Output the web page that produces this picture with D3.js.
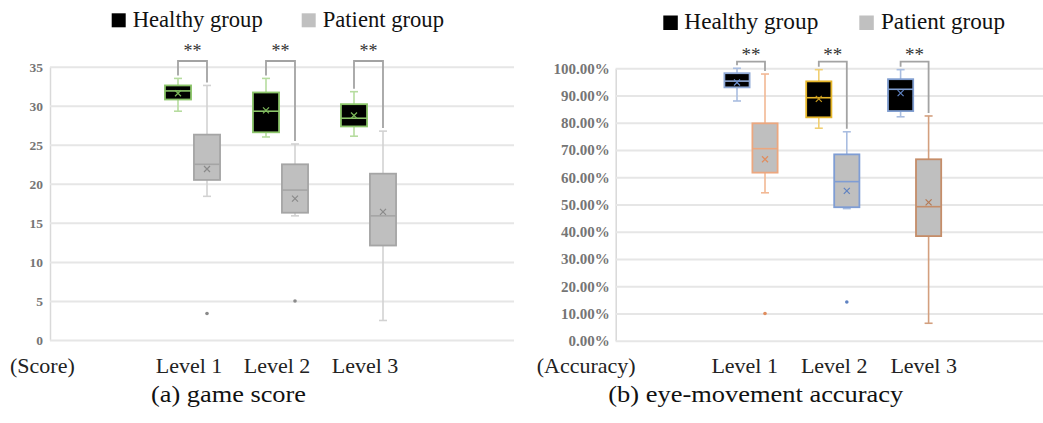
<!DOCTYPE html>
<html><head><meta charset="utf-8">
<script src="https://cdn.jsdelivr.net/npm/d3@7"></script>
<style>body{margin:0;background:#fff;} svg{display:block;font-family:"Liberation Serif","Times New Roman",serif;} .tick text{font-family:"Liberation Serif",serif !important;font-weight:700 !important;}</style>
</head><body><svg id="c" width="1043" height="423"></svg>
<script>
// ---------- data ----------
const levels = ["Level 1", "Level 2", "Level 3"];
const groups = ["Healthy group", "Patient group"];
const scoreTicks = [0, 5, 10, 15, 20, 25, 30, 35];
const accTicks = [0, 10, 20, 30, 40, 50, 60, 70, 80, 90, 100];

// (a) game score
const scoreHealthyMin = [29.3, 26.0, 26.1];
const scoreHealthyQ1 = [30.8, 26.6, 27.35];
const scoreHealthyMedian = [31.9, 29.3, 28.4];
const scoreHealthyQ3 = [32.6, 31.7, 30.2];
const scoreHealthyMax = [33.5, 33.5, 31.8];
const scoreHealthyMean = [31.6, 29.4, 28.75];
const scoreHealthyOutliers = [[], [], []];

const scorePatientMin = [18.4, 15.9, 2.5];
const scorePatientQ1 = [20.5, 16.3, 12.1];
const scorePatientMedian = [22.5, 19.2, 15.9];
const scorePatientQ3 = [26.3, 22.5, 21.3];
const scorePatientMax = [32.6, 25.1, 26.75];
const scorePatientMean = [21.9, 18.1, 16.4];
const scorePatientOutliers = [[3.4], [5.0], []];

// (b) eye-movement accuracy (%)
const accHealthyMin = [88.0, 78.0, 82.2];
const accHealthyQ1 = [93.0, 82.0, 84.3];
const accHealthyMedian = [95.3, 89.2, 92.3];
const accHealthyQ3 = [98.2, 95.2, 96.0];
const accHealthyMax = [100.0, 99.5, 99.5];
const accHealthyMean = [94.8, 88.8, 90.9];
const accHealthyOutliers = [[], [], []];

const accPatientMin = [54.3, 48.5, 6.4];
const accPatientQ1 = [61.7, 49.0, 38.4];
const accPatientMedian = [70.5, 58.4, 49.2];
const accPatientQ3 = [79.8, 68.4, 66.6];
const accPatientMax = [97.9, 76.7, 82.5];
const accPatientMean = [66.6, 55.0, 50.8];
const accPatientOutliers = [[10.0], [14.2], []];

const significance = ["**", "**", "**"];

// ---------- styles ----------
const scoreStroke = {"Healthy group": ["#8cc56a", "#8cc56a", "#8cc56a"], "Patient group": ["#a5a5a5", "#a5a5a5", "#a5a5a5"]};
const scoreWhisker = {"Healthy group": ["#b6dc9f", "#b6dc9f", "#b6dc9f"], "Patient group": ["#d2d2d2", "#d2d2d2", "#d2d2d2"]};
const scoreMark = {"Healthy group": ["#7cb85a", "#7cb85a", "#7cb85a"], "Patient group": ["#8a8a8a", "#8a8a8a", "#8a8a8a"]};
const accStroke = {"Healthy group": ["#8fa9d6", "#e6b62a", "#7f9dd0"], "Patient group": ["#eca77f", "#7f9dd4", "#c58d69"]};
const accWhisker = {"Healthy group": ["#a9bde0", "#f0cf73", "#a9bde0"], "Patient group": ["#f2b894", "#a9bde0", "#d39f7e"]};
const accMark = {"Healthy group": ["#6d8fcc", "#c99a1c", "#5f82c2"], "Patient group": ["#e08d5e", "#5f82c2", "#b57a55"]};
const fills = {"Healthy group": "#000000", "Patient group": "#bfbfbf"};

const svg = d3.select("#c");

function drawPanel(p) {
  const g = svg.append("g");
  const y = d3.scaleLinear().domain(p.yDomain).range([p.yBottom, p.yTop]);
  const x = d3.scaleBand().domain(levels).range(p.xRange);
  const xg = d3.scaleBand().domain(groups).range([-p.pair / 2, p.pair / 2]);
  const cx = (lvl, grp) => x(lvl) + x.bandwidth() / 2 + xg(grp) + xg.bandwidth() / 2;
  const bw = xg.bandwidth() * 0.9;

  // axis + gridlines
  const ax = g.append("g").attr("transform", `translate(${p.plotLeft},0)`)
    .call(d3.axisLeft(y).tickValues(p.ticks).tickSize(-(p.plotRight - p.plotLeft)).tickSizeOuter(0)
      .tickPadding(p.tickPad).tickFormat(p.fmt));
  ax.attr("font-family", null);
  ax.select(".domain").attr("stroke", "#d9d9d9").attr("stroke-width", 1.5);
  ax.selectAll(".tick line").attr("stroke", "#e6e6e6").attr("stroke-width", 2);
  ax.selectAll(".tick text").attr("font-size", p.tickSize).attr("fill", "#757575");

  // boxes
  groups.forEach(grp => {
    const s = p.stats[grp];
    const rows = levels.map((lvl, i) => ({
      lvl, i, min: s.min[i], q1: s.q1[i], med: s.med[i], q3: s.q3[i], max: s.max[i], mean: s.mean[i], out: s.out[i],
      stroke: p.stroke[grp][i], wh: p.whisker[grp][i], mk: p.mark[grp][i]
    }));
    const bg = g.append("g");
    rows.forEach(r => {
      const c = cx(r.lvl, grp);
      bg.append("line").attr("x1", c).attr("x2", c).attr("y1", y(r.max)).attr("y2", y(r.min))
        .attr("stroke", r.wh).attr("stroke-width", 1.6);
      [r.min, r.max].forEach(v => bg.append("line").attr("x1", c - 4).attr("x2", c + 4)
        .attr("y1", y(v)).attr("y2", y(v)).attr("stroke", r.wh).attr("stroke-width", 1.6));
      bg.append("rect").attr("x", c - bw / 2).attr("width", bw).attr("y", y(r.q3)).attr("height", y(r.q1) - y(r.q3))
        .attr("fill", fills[grp]).attr("stroke", r.stroke).attr("stroke-width", 1.8);
      bg.append("line").attr("x1", c - bw / 2).attr("x2", c + bw / 2).attr("y1", y(r.med)).attr("y2", y(r.med))
        .attr("stroke", r.stroke).attr("stroke-width", 1.6);
      const m = y(r.mean), k = 3;
      bg.append("path").attr("d", `M${c - k},${m - k}L${c + k},${m + k}M${c - k},${m + k}L${c + k},${m - k}`)
        .attr("stroke", r.mk).attr("stroke-width", 1.2).attr("fill", "none");
      r.out.forEach(v => bg.append("circle").attr("cx", c).attr("cy", y(v)).attr("r", 1.8).attr("fill", r.mk));
    });
  });

  // significance brackets
  levels.forEach((lvl, i) => {
    const hx = cx(lvl, groups[0]), px = cx(lvl, groups[1]);
    const hy = Math.max(p.bracketY, y(p.stats[groups[0]].max[i]) - 3);
    const py = Math.max(p.bracketY, y(p.stats[groups[1]].max[i]) - 3);
    g.append("path").attr("d", `M${hx},${hy}V${p.bracketY}H${px}V${py}`)
      .attr("fill", "none").attr("stroke", "#a3a3a3").attr("stroke-width", 1.8);
    g.append("text").attr("x", (hx + px) / 2).attr("y", p.starY).attr("text-anchor", "middle")
      .attr("font-size", p.starSize).attr("fill", "#333").text(significance[i]);
  });

  // category labels
  const lx = d3.scalePoint().domain(levels).range(p.labelRange);
  g.selectAll(".cat").data(levels).join("text").attr("x", d => lx(d)).attr("y", 373)
    .attr("text-anchor", "middle").attr("font-size", 22).attr("fill", "#222").text(d => d);

  // unit label + caption
  g.append("text").attr("x", p.unitX).attr("y", 373).attr("font-size", 22).attr("fill", "#222").text(p.unit);
  g.append("text").attr("x", p.capX).attr("y", 402).attr("text-anchor", "middle").attr("font-size", 24)
    .attr("textLength", p.capLen).attr("lengthAdjust", "spacingAndGlyphs").attr("fill", "#111").text(p.caption);

  // legend
  groups.forEach((grp, j) => {
    const L = p.legend[j];
    g.append("rect").attr("x", L.sx).attr("y", L.sy).attr("width", L.size).attr("height", L.size)
      .attr("fill", grp === groups[0] ? "#000" : "#c0c0c0");
    g.append("text").attr("x", L.tx).attr("y", L.ty).attr("font-size", 23).attr("textLength", L.len)
      .attr("lengthAdjust", "spacingAndGlyphs").attr("fill", "#111").text(grp);
  });
}

drawPanel({
  yDomain: [0, 35], yBottom: 340, yTop: 66.7, ticks: scoreTicks, fmt: d3.format("d"),
  xRange: [148.5, 412.5], pair: 58, plotLeft: 50, plotRight: 514, tickPad: 7, tickSize: 13.5,
  stats: {
    "Healthy group": {min: scoreHealthyMin, q1: scoreHealthyQ1, med: scoreHealthyMedian, q3: scoreHealthyQ3, max: scoreHealthyMax, mean: scoreHealthyMean, out: scoreHealthyOutliers},
    "Patient group": {min: scorePatientMin, q1: scorePatientQ1, med: scorePatientMedian, q3: scorePatientQ3, max: scorePatientMax, mean: scorePatientMean, out: scorePatientOutliers}
  },
  stroke: scoreStroke, whisker: scoreWhisker, mark: scoreMark,
  bracketY: 61, starY: 56.5, starSize: 18,
  labelRange: [189, 365], unit: "(Score)", unitX: 10,
  caption: "(a) game score", capX: 228.5, capLen: 155,
  legend: [{sx: 111.7, sy: 13.3, size: 14, tx: 132.7, ty: 26.7, len: 130},
           {sx: 301.7, sy: 13.3, size: 14, tx: 322.7, ty: 26.7, len: 121.3}]
});

drawPanel({
  yDomain: [0, 100], yBottom: 340.7, yTop: 68.3, ticks: accTicks, fmt: d => d.toFixed(2) + "%",
  xRange: [710.1, 955.5], pair: 56, plotLeft: 615.7, plotRight: 1043, tickPad: 6, tickSize: 15,
  stats: {
    "Healthy group": {min: accHealthyMin, q1: accHealthyQ1, med: accHealthyMedian, q3: accHealthyQ3, max: accHealthyMax, mean: accHealthyMean, out: accHealthyOutliers},
    "Patient group": {min: accPatientMin, q1: accPatientQ1, med: accPatientMedian, q3: accPatientQ3, max: accPatientMax, mean: accPatientMean, out: accPatientOutliers}
  },
  stroke: accStroke, whisker: accWhisker, mark: accMark,
  bracketY: 61.7, starY: 61, starSize: 19,
  labelRange: [744.7, 923.7], unit: "(Accuracy)", unitX: 536.7,
  caption: "(b) eye-movement accuracy", capX: 755.8, capLen: 295,
  legend: [{sx: 663.3, sy: 15.5, size: 14.5, tx: 684.3, ty: 28.5, len: 134},
           {sx: 859.3, sy: 15.5, size: 14.5, tx: 881, ty: 28.5, len: 124}]
});
</script>
</body></html>
